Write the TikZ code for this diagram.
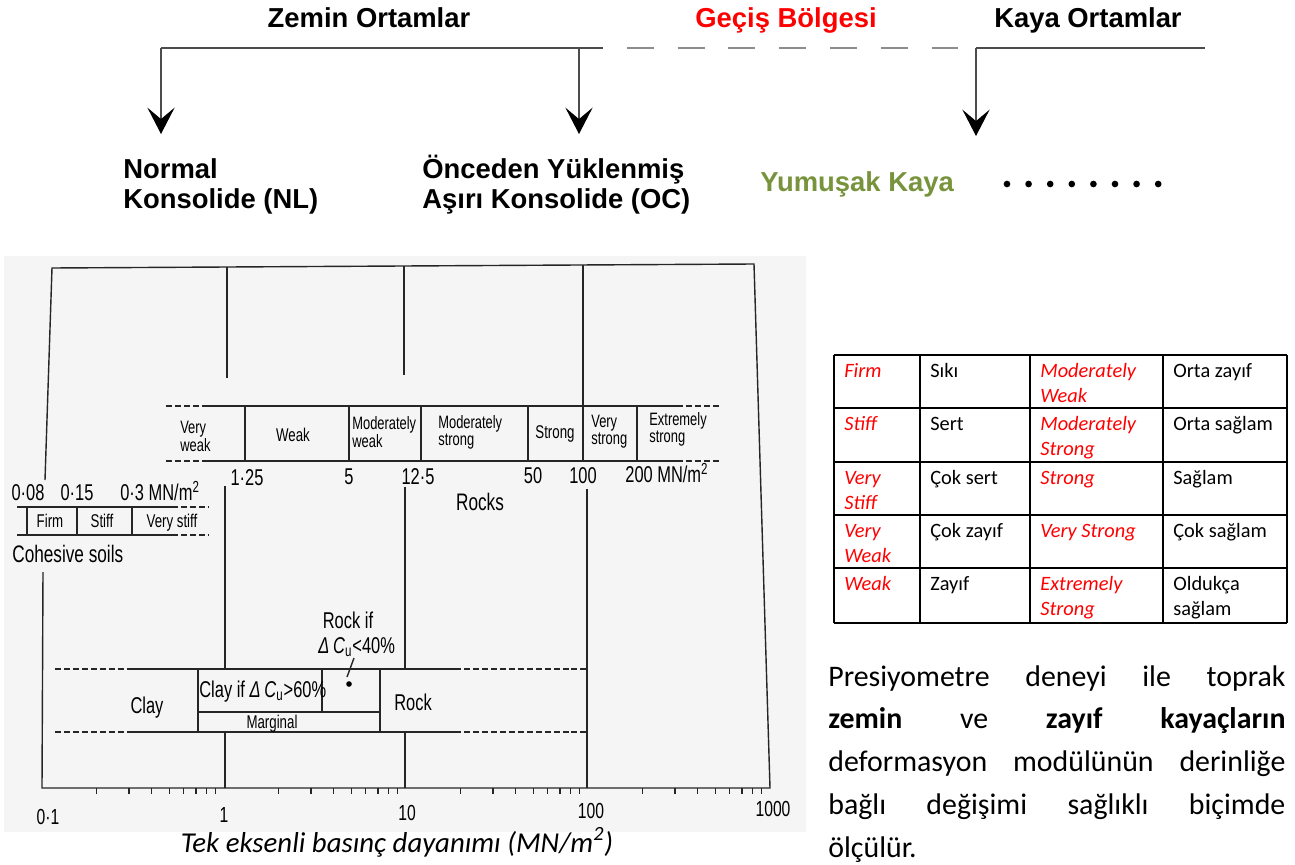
\documentclass[tikz,border=0pt]{standalone}
\usepackage{fontspec}
\setmainfont{Liberation Sans}
\newfontfamily\calfont{Carlito}
\newfontfamily\dinfont[FakeStretch=0.72]{Liberation Sans}
\usetikzlibrary{arrows.meta}
\definecolor{yesil}{HTML}{77933C}
\definecolor{kirmizi}{HTML}{FF0000}
\newcommand{\satir}[1]{\begin{tabular}[t]{@{}l@{}}#1\end{tabular}}
\tikzset{
    %Define standard arrow tip
    >={Stealth[length=15pt,width=15.5pt,inset=6.5pt,black]},
    %Define style for headings
    bas/.style={
           anchor=base,
           inner sep=0pt,
           font=\bfseries\fontsize{15.6pt}{17.6pt}\selectfont},
    alt/.style={
           anchor=base west,
           inner sep=0pt,
           font=\bfseries\fontsize{15.6pt}{17.6pt}\selectfont},
    % Define arrow style
    pil/.style={
           ->,
           line width=0.75pt,
           draw=black!70},
    kol/.style={line width=0.75pt, draw=black!70},
    kold/.style={line width=1.5pt, draw=black!45,
           dash pattern=on 15.3pt off 13.6pt, dash phase=15.3pt},
    %chart lines
    cz/.style={line width=0.8pt, draw=black!85},
    cd/.style={cz, dash pattern=on 3.4pt off 1.7pt},
    %chart texts
    etk/.style={inner sep=0pt, anchor=base,
           font=\dinfont\fontsize{13pt}{14pt}\selectfont},
    kut/.style={inner sep=0pt, anchor=base west,
           font=\dinfont\fontsize{10.2pt}{10.2pt}\selectfont},
    kuc/.style={kut, anchor=base,
           font=\dinfont\fontsize{10.5pt}{11pt}\selectfont},
    eks/.style={etk, font=\dinfont\fontsize{12.4pt}{13pt}\selectfont},
    %table
    tab/.style={line width=0.9pt, draw=black},
    tc/.style={anchor=base west, inner sep=0pt,
           font=\calfont\fontsize{11.6pt}{14.7pt}\selectfont},
    te/.style={tc, text=kirmizi,
           font=\calfont\itshape\fontsize{11.6pt}{14.7pt}\selectfont}
}

\begin{document}
\begin{tikzpicture}[x=0.02cm, y=-0.02cm]

\fill[white] (0,0) rectangle (1295,865);
\useasboundingbox (0,0) rectangle (1295,865);

%% top scheme
\node[bas] (zem) at (369,28) {Zemin Ortamlar};
\node[bas, text=kirmizi] (gec) at (786,28) {Geçiş Bölgesi};
\node[bas] (kay) at (1088,28) {Kaya Ortamlar};

\node[alt] (NL) at (123,178) {\satir{Normal\\Konsolide (NL)}};
\node[alt] (OC) at (422,178) {\satir{Önceden Yüklenmiş\\Aşırı Konsolide (OC)}};
\node[alt, text=yesil] (YK) at (760,192) {Yumuşak Kaya};
\foreach \i in {0,...,7}
    \fill (1007+21.6*\i,184) circle[radius=1.9pt];

\coordinate (zL) at (161,48);
\coordinate (zM) at (579,48);
\coordinate (zE) at (603,48);
\coordinate (kL) at (976,48);
\coordinate (kR) at (1205,48);
\coordinate (aNL) at (161,134);
\coordinate (aOC) at (579,134);
\coordinate (aYK) at (976,136);

\draw[kol] (zL) -- (zE);
\draw[kold] (zE) -- (kL);
\draw[kol] (kL) -- (kR);
\draw[pil] (zL) -- (aNL);
\draw[pil] (zM) -- (aOC);
\draw[pil] (kL) -- (aYK);

%% chart
\fill[black!4] (4,256) rectangle (806,832);

\draw[cz] (45,480) -- (52,268) -- (754,264) -- (770,788) -- (42,788) -- (43,572);
% decade lines
\draw[cz] (227,267) -- (227,378);
\draw[cz] (404,266) -- (404,375);
\draw[cz] (583,265) -- (583,461);
\draw[cz] (225,486) -- (225,669);
\draw[cz] (225,732) -- (225,788);
\draw[cz] (405,487) -- (405,669);
\draw[cz] (405,732) -- (405,788);
\draw[cz] (587,489) -- (587,788);
% axis ticks
\foreach \d in {0,1,2,3}
  \foreach \k in {2,...,9}{
    \pgfmathsetmacro\xx{42+182*(\d+log10(\k))}
    \draw[cz] (\xx,788) -- (\xx,794);
  }

% rock scale
\draw[cz] (208,406) -- (677,406);
\draw[cz] (208,461) -- (677,461);
\draw[cd] (166,406) -- (208,406);
\draw[cd] (166,461) -- (208,461);
\draw[cd] (677,406) -- (720,406);
\draw[cd] (677,461) -- (720,461);
\foreach \x in {245,349,421,528,637}
    \draw[cz] (\x,406) -- (\x,461);

\node[kut] (vw) at (180,433) {\satir{Very\\weak}};
\node[kuc] (wk) at (293,441) {Weak};
\node[kut] (mw) at (352,429) {\satir{Moderately\\weak}};
\node[kut] (ms) at (438,428) {\satir{Moderately\\strong}};
\node[kuc] (st) at (555,438) {Strong};
\node[kut] (vs) at (591,427) {\satir{Very\\strong}};
\node[kut] (es) at (649,425) {\satir{Extremely\\strong}};

\node[etk] (r1) at (247,485) {1·25};
\node[etk] (r2) at (349,484) {5};
\node[etk] (r3) at (418,484) {12·5};
\node[etk] (r4) at (533,483) {50};
\node[etk] (r5) at (583,483) {100};
\node[etk, anchor=base west] (r6) at (625,482) {200 MN/m\textsuperscript{2}};
\node[etk, font=\dinfont\fontsize{13.6pt}{14pt}\selectfont] (rocks) at (480,510) {Rocks};

% soil scale
\draw[cz] (17,507) -- (172,507);
\draw[cz] (17,535) -- (172,535);
\draw[cd] (172,507) -- (209,507);
\draw[cd] (172,535) -- (209,535);
\foreach \x in {27,77,132}
    \draw[cz] (\x,507) -- (\x,535);

\node[etk] (s1) at (28,500) {0·08};
\node[etk] (s2) at (77,500) {0·15};
\node[etk, anchor=base west] (s3) at (120,500) {0·3 MN/m\textsuperscript{2}};
\node[kuc] (fi) at (50,527) {Firm};
\node[kuc] (sf) at (102,527) {Stiff};
\node[kuc] (vsf) at (172,527) {Very stiff};
\node[etk, anchor=base west, font=\dinfont\fontsize{13.6pt}{14pt}\selectfont] (coh) at (12,562) {Cohesive soils};

% clay / rock band
\draw[cd] (55,669) -- (133,669);
\draw[cz] (133,669) -- (455,669);
\draw[cd] (455,669) -- (587,669);
\draw[cd] (55,732) -- (133,732);
\draw[cz] (133,732) -- (455,732);
\draw[cd] (455,732) -- (587,732);
\draw[cz] (198,669) -- (198,732);
\draw[cz] (380,669) -- (380,732);
\draw[cz] (198,712) -- (380,712);
\draw[cz] (322,669) -- (322,712);

\node[etk] (ri) at (348,628) {Rock if};
\node[etk, anchor=base west] (rc) at (318,653) {\textit{Δ\,C}\textsubscript{u}<40\%};
\coordinate (lk) at (354,658);
\coordinate (dt) at (349,684);
\draw[cz] (lk) -- (347,677);
\fill (dt) circle[radius=1.6pt];

\node[etk] (cl) at (147,713) {Clay};
\node[etk, anchor=base west] (ci) at (199,697) {Clay if \textit{Δ\,C}\textsubscript{u}>60\%};
\node[kuc] (mg) at (272,728) {Marginal};
\node[etk] (rk) at (413,710) {Rock};

% axis labels
\node[eks] (a1) at (48,824) {0·1};
\node[eks] (a2) at (224,822) {1};
\node[eks] (a3) at (407,820) {10};
\node[eks] (a4) at (591,818) {100};
\node[eks] (a5) at (773,816) {1000};

\node[anchor=base, inner sep=0pt, font=\calfont\itshape\fontsize{16.4pt}{18pt}\selectfont] (cap) at (397,852)
    {Tek eksenli basınç dayanımı (MN/m\textsuperscript{2})};

%% table
\foreach \y in {355,408,462,515,568,623}
    \draw[tab] (834,\y) -- (1287,\y);
\foreach \x in {834,920,1030,1163,1287}
    \draw[tab] (\x,355) -- (\x,623);

\node[te] (t11) at (844,377) {Firm};
\node[tc] (t12) at (930,377) {Sıkı};
\node[te] (t13) at (1040,377) {\satir{Moderately\\Weak}};
\node[tc] (t14) at (1173,377) {Orta zayıf};
\node[te] (t21) at (844,430) {Stiff};
\node[tc] (t22) at (930,430) {Sert};
\node[te] (t23) at (1040,430) {\satir{Moderately\\Strong}};
\node[tc] (t24) at (1173,430) {Orta sağlam};
\node[te] (t31) at (844,484) {\satir{Very\\Stiff}};
\node[tc] (t32) at (930,484) {Çok sert};
\node[te] (t33) at (1040,484) {Strong};
\node[tc] (t34) at (1173,484) {Sağlam};
\node[te] (t41) at (844,537) {\satir{Very\\Weak}};
\node[tc] (t42) at (930,537) {Çok zayıf};
\node[te] (t43) at (1040,537) {Very Strong};
\node[tc] (t44) at (1173,537) {Çok sağlam};
\node[te] (t51) at (844,590) {Weak};
\node[tc] (t52) at (930,590) {Zayıf};
\node[te] (t53) at (1040,590) {\satir{Extremely\\Strong}};
\node[tc] (t54) at (1173,590) {\satir{Oldukça\\sağlam}};

%% paragraph
\node[anchor=base west, inner sep=0pt, font=\calfont\fontsize{17pt}{24.4pt}\selectfont] (txt) at (828,686)
    {\parbox[t]{260.2pt}{Presiyometre deneyi ile toprak\linebreak
     \textbf{zemin} ve \textbf{zayıf kayaçların}\linebreak
     deformasyon modülünün derinliğe\linebreak
     bağlı değişimi sağlıklı biçimde\linebreak
     ölçülür.}};

\end{tikzpicture}
\end{document}
